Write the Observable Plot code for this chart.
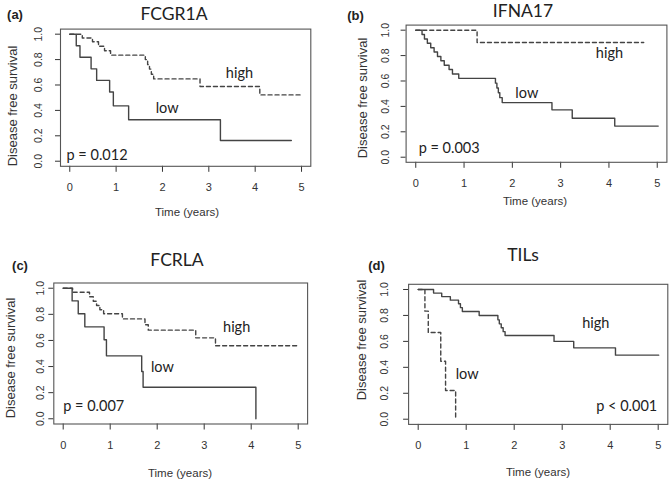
<!DOCTYPE html>
<html>
<head>
<meta charset="utf-8">
<script src="https://cdn.jsdelivr.net/npm/d3@7"></script>
<script src="https://cdn.jsdelivr.net/npm/@observablehq/plot@0.6"></script>
<style>
  body { margin: 0; background: #fff; }
  #fig { position: relative; width: 669px; height: 482px; overflow: hidden; background: #fff;
         font-family: "Liberation Sans", Arial, sans-serif; color: #333; }
  #fig svg { position: absolute; overflow: visible; }
  .t { position: absolute; white-space: nowrap; line-height: 1; transform: translate(-50%, -50%); }
  .tag { font-weight: bold; font-size: 13px; color: #222; }
  .title { font-family: Lato, "Open Sans", sans-serif; font-size: 17.5px; color: #222; }
  .xl { font-size: 11.5px; }
  .yl { font-size: 13px; transform: translate(-50%, -50%) rotate(-90deg); }
</style>
</head>
<body>
<div id="fig"></div>
<script>
// ---------- data ----------
const xTicks = [0, 1, 2, 3, 4, 5];
const yTicks = [0, 0.2, 0.4, 0.6, 0.8, 1.0];

const panelTags = ["(a)", "(b)", "(c)", "(d)"];
const panelTitles = ["FCGR1A", "IFNA17", "FCRLA", "TILs"];
const pValues = ["p = 0.012", "p = 0.003", "p = 0.007", "p < 0.001"];
const groupNames = ["high", "low"];

// (a) FCGR1A
const aHighT = [0, 0.27, 0.49, 0.62, 0.75, 0.88, 1.63, 1.68, 1.72, 1.76, 1.81, 2.81, 4.10, 5.03];
const aHighS = [1, 0.97, 0.94, 0.905, 0.87, 0.835, 0.80, 0.76, 0.725, 0.685, 0.648, 0.588, 0.522, 0.522];
const aLowT  = [0, 0.14, 0.22, 0.46, 0.58, 0.86, 0.94, 1.27, 3.25, 4.78];
const aLowS  = [1, 0.909, 0.818, 0.727, 0.636, 0.545, 0.436, 0.327, 0.163, 0.163];

// (b) IFNA17
const bHighT = [0, 1.27, 4.72];
const bHighS = [1, 0.903, 0.903];
const bLowT  = [0, 0.13, 0.18, 0.24, 0.31, 0.38, 0.45, 0.52, 0.59, 0.69, 0.76, 0.89,
                1.65, 1.68, 1.71, 1.74, 1.79, 2.82, 3.24, 4.12, 5.02];
const bLowS  = [1, 0.966, 0.931, 0.897, 0.862, 0.828, 0.793, 0.759, 0.724, 0.690, 0.655, 0.621,
                0.583, 0.545, 0.507, 0.469, 0.430, 0.373, 0.307, 0.245, 0.245];

// (c) FCRLA
const cHighT = [0, 0.20, 0.56, 0.64, 0.71, 0.78, 0.86, 1.26, 1.74, 1.81, 2.82, 3.24, 5.01];
const cHighS = [1, 0.969, 0.935, 0.90, 0.868, 0.835, 0.804, 0.765, 0.72, 0.679, 0.62, 0.559, 0.559];
const cLowT  = [0, 0.19, 0.32, 0.46, 0.87, 0.92, 1.67, 1.70, 4.10];
const cLowS  = [1, 0.903, 0.804, 0.704, 0.605, 0.482, 0.362, 0.242, 0];

// (d) TILs
const dHighT = [0, 0.32, 0.49, 0.67, 0.84, 0.88, 0.92, 1.27, 1.66, 1.69, 1.73, 1.77, 1.81, 2.83, 3.24, 4.11, 5.01];
const dHighS = [1, 0.972, 0.945, 0.918, 0.89, 0.86, 0.83, 0.80, 0.766, 0.735, 0.705, 0.675, 0.645, 0.60, 0.55, 0.494, 0.494];
const dLowT  = [0, 0.14, 0.21, 0.47, 0.57, 0.78];
const dLowS  = [1, 0.833, 0.668, 0.447, 0.221, 0];

// ---------- layout ----------
const panels = [
  { box: [0, 0, 334, 238], frame: { l: 60, r: 310.3, t: 28.6, b: 165.8 },
    high: [aHighT, aHighS], low: [aLowT, aLowS], highDashed: true, yOff: 22,
    tag: [15, 13.5], title: [174, 14], ylab: [11.5, 106], xlab: [187, 213],
    hi: [3.66, 0.69], lo: [2.10, 0.42], p: [-0.07, 0.045, "start"] },
  { box: [335, 0, 334, 238], frame: { l: 405.6, r: 666.4, t: 24.6, b: 161.8 },
    high: [bHighT, bHighS], low: [bLowT, bLowS], highDashed: true, yOff: 20.5,
    tag: [355.5, 15], title: [523, 11], ylab: [362, 97.5], xlab: [535, 202],
    hi: [4.01, 0.814], lo: [2.30, 0.504], p: [0.06, 0.07, "start"] },
  { box: [0, 240, 334, 242], frame: { l: 53.3, r: 307.1, t: 282.5, b: 423.5 },
    high: [cHighT, cHighS], low: [cLowT, cLowS], highDashed: true, yOff: 13,
    tag: [20, 265], title: [177, 260], ylab: [9.5, 358], xlab: [180, 474],
    hi: [3.69, 0.697], lo: [2.11, 0.395], p: [0.0, 0.096, "start"] },
  { box: [335, 240, 334, 242], frame: { l: 408.1, r: 667.3, t: 283.8, b: 423.9 },
    high: [dHighT, dHighS], low: [dLowT, dLowS], highDashed: false, yOff: 24,
    tag: [376.5, 265], title: [523, 255], ylab: [361, 340], xlab: [538, 473],
    hi: [3.70, 0.736], lo: [1.02, 0.342], p: [4.98, 0.10, "end"] }
];

const fig = document.getElementById("fig");
const fmt = d3.format(".1f");
const lineColor = "#444";
const annFont = "Lato, 'Open Sans', sans-serif";

function addText(cls, text, [x, y]) {
  const d = document.createElement("div");
  d.className = "t " + cls;
  d.textContent = text;
  d.style.left = x + "px";
  d.style.top = y + "px";
  fig.appendChild(d);
}

panels.forEach((p, i) => {
  const [ox, oy, w, h] = p.box;
  const f = p.frame;
  const rows = ([T, S]) => T.map((t, k) => ({ t, s: S[k] }));
  const highRows = rows(p.high), lowRows = rows(p.low);

  const chart = Plot.plot({
    width: w, height: h,
    marginLeft: f.l - ox, marginRight: ox + w - f.r,
    marginTop: f.t - oy, marginBottom: oy + h - f.b,
    x: { domain: [-0.2, 5.2] },
    y: { domain: [-0.04, 1.04] },
    style: { background: "transparent", color: "#333", fontFamily: "'Liberation Sans', Arial, sans-serif" },
    marks: [
      Plot.axisX({ ticks: xTicks, tickSize: 6, tickFormat: () => "", label: null }),
      Plot.axisY({ ticks: yTicks, tickSize: 5, tickFormat: () => "", label: null }),
      Plot.text(xTicks, { x: d => d, text: d => String(d), frameAnchor: "bottom", dy: 21.5,
        lineAnchor: "middle", fontSize: 11, fill: "#333" }),
      Plot.text(yTicks, { y: d => d, text: d => fmt(d), frameAnchor: "left", dx: -p.yOff,
        rotate: -90, textAnchor: "middle", lineAnchor: "middle", fontSize: 10.5, fill: "#333" }),
      Plot.frame({ stroke: "#555", strokeWidth: 1.1 }),
      Plot.line(highRows, { x: "t", y: "s", curve: "step-after", stroke: lineColor, strokeWidth: 1.4,
        strokeDasharray: p.highDashed ? "4,3" : null }),
      Plot.line(lowRows, { x: "t", y: "s", curve: "step-after", stroke: lineColor, strokeWidth: 1.4,
        strokeDasharray: p.highDashed ? null : "4,3" }),
      Plot.text([groupNames[0]], { x: () => p.hi[0], y: () => p.hi[1], text: d => d,
        fontFamily: annFont, fontSize: 14.5, fill: "#222" }),
      Plot.text([groupNames[1]], { x: () => p.lo[0], y: () => p.lo[1], text: d => d,
        fontFamily: annFont, fontSize: 14.5, fill: "#222" }),
      Plot.text([pValues[i]], { x: () => p.p[0], y: () => p.p[1], text: d => d, textAnchor: p.p[2],
        fontFamily: annFont, fontSize: 14.5, fill: "#222" })
    ]
  });
  chart.style.left = ox + "px";
  chart.style.top = oy + "px";
  fig.appendChild(chart);

  addText("tag", panelTags[i], p.tag);
  addText("title", panelTitles[i], p.title);
  addText("yl", "Disease free survival", p.ylab);
  addText("xl", "Time (years)", p.xlab);
});
</script>
</body>
</html>
